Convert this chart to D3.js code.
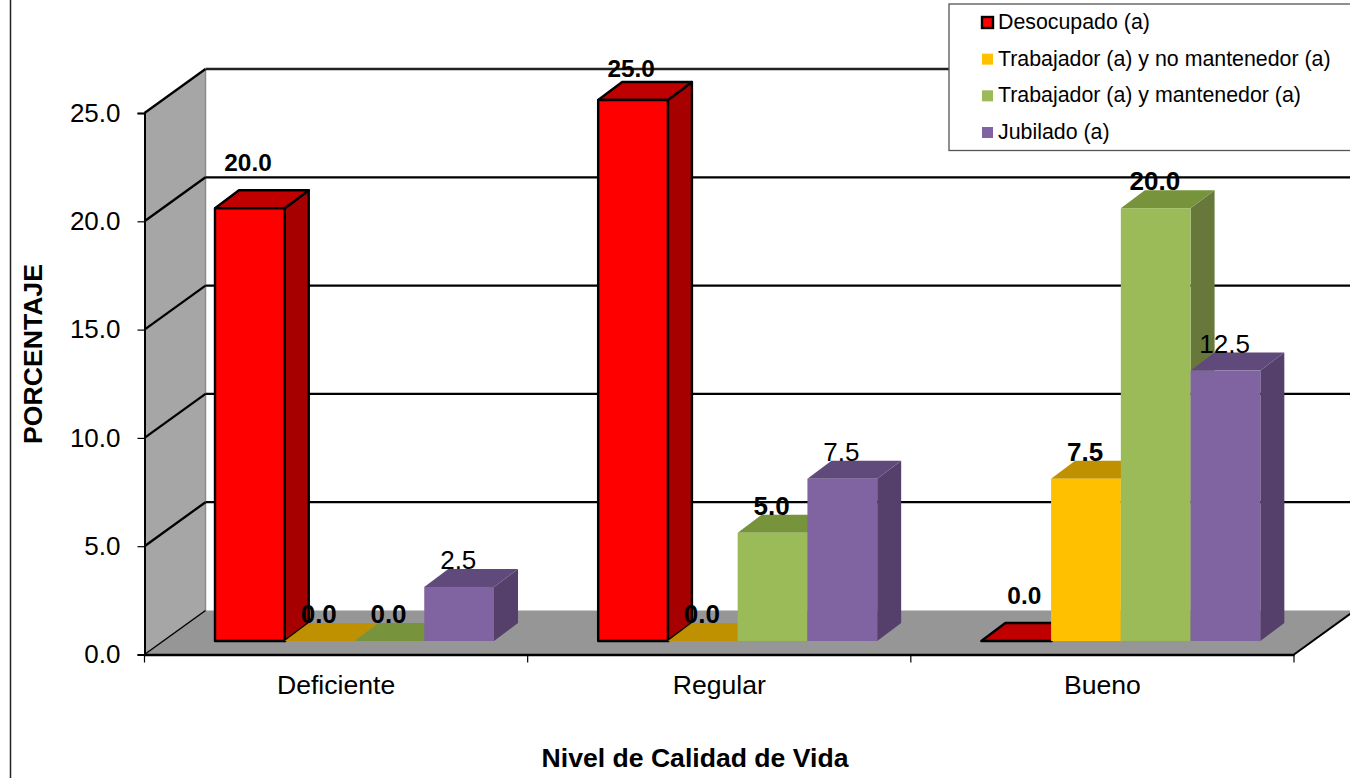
<!DOCTYPE html>
<html>
<head>
<meta charset="utf-8">
<script src="https://cdnjs.cloudflare.com/ajax/libs/d3/7.8.5/d3.min.js"></script>
<style>
html,body{margin:0;padding:0;background:#fff;overflow:hidden}
svg{display:block}
text{font-family:"Liberation Sans",Arial,sans-serif;fill:#000}
</style>
</head>
<body>
<svg id="chart" width="1350" height="778"></svg>
<script>
// Chart data
const categories = ["Deficiente", "Regular", "Bueno"];
const seriesNames = ["Desocupado (a)", "Trabajador (a) y no mantenedor (a)", "Trabajador (a) y mantenedor (a)", "Jubilado (a)"];
const desocupado = [20.0, 25.0, 0.0];
const noMantenedor = [0.0, 0.0, 7.5];
const mantenedor = [0.0, 5.0, 20.0];
const jubilado = [2.5, 7.5, 12.5];
const yTicks = [0, 5, 10, 15, 20, 25];
const faceColors = ["#ff0000", "#ffc000", "#9bbb59", "#8064a2"];
const topColors = ["#c00000", "#bf9000", "#77933c", "#604a7b"];
const sideColors = ["#a60000", "#bf9000", "#67783a", "#54406a"];

const seriesValues = [desocupado, noMantenedor, mantenedor, jubilado];

const svg = d3.select("#chart");
const poly = pts => pts.map(p => p.join(",")).join(" ");

// Frame of the 3D box: front plane and depth of the back wall
const frontLeft = 144.5, frontRight = 1294, depthX = 61, depthY = 44;
const yFront = d3.scaleLinear().domain([0, 25]).range([654.5, 113]);
const yBar = d3.scaleLinear().domain([0, 25]).range([641, 100]);
const xGroup = d3.scaleBand().domain(categories).range([frontLeft, frontRight]);
const barW = 69.75, barDepthX = 24, barDepthY = 18, barLeadIn = 70.5;
const xBar = (c, s) => xGroup(c) + barLeadIn + s * barW;

// Outer chart border
svg.append("line").attr("x1", 10.5).attr("x2", 10.5).attr("y1", 0).attr("y2", 778)
  .attr("stroke", "#222").attr("stroke-width", 1.5);

// Side wall and floor
const y0 = yFront(0), yTop = yFront(25);
svg.append("polygon")
  .attr("points", poly([[frontLeft, yTop], [frontLeft + depthX, yTop - depthY], [frontLeft + depthX, y0 - depthY], [frontLeft, y0]]))
  .attr("fill", "#a6a6a6");
svg.append("polygon")
  .attr("points", poly([[frontLeft, y0], [frontLeft + depthX, y0 - depthY], [frontRight + depthX, y0 - depthY], [frontRight, y0]]))
  .attr("fill", "#969696");
svg.append("line")
  .attr("x1", frontLeft + depthX).attr("x2", frontLeft + depthX)
  .attr("y1", yTop - depthY).attr("y2", y0 - depthY)
  .attr("stroke", "#8c8c8c").attr("stroke-width", 1.5);

// Gridlines running along the side wall and the back wall
const grid = svg.append("g").attr("fill", "none").attr("stroke", "#000").attr("stroke-width", 2.3);
yTicks.forEach(t => {
  const y = yFront(t);
  grid.append("line").attr("x1", frontLeft).attr("y1", y).attr("x2", frontLeft + depthX).attr("y2", y - depthY)
    .attr("stroke-width", t === 0 ? 1.5 : 2.3);
  if (t > 0) {
    grid.append("line").attr("x1", frontLeft + depthX).attr("y1", y - depthY).attr("x2", 1350).attr("y2", y - depthY)
      .attr("stroke", t === 25 ? "#222" : "#000");
  }
});

// Right-hand edge of the floor, clipped by the page
svg.append("line")
  .attr("x1", frontRight).attr("y1", y0).attr("x2", frontRight + depthX).attr("y2", y0 - depthY)
  .attr("stroke", "#000").attr("stroke-width", 2);

// Axes on the front plane
const yAxis = d3.axisLeft(yFront).tickValues(yTicks).tickFormat(d3.format(".1f")).tickSize(7).tickPadding(17);
const gy = svg.append("g").attr("transform", `translate(${frontLeft},0)`).call(yAxis);
gy.select(".domain").attr("stroke", "#000").attr("stroke-width", 2);
gy.selectAll(".tick line").attr("stroke", "#000").attr("stroke-width", 1.2);
gy.selectAll("text").attr("font-size", 26).attr("font-family", '"Liberation Sans",Arial,sans-serif').attr("dy", "0.32em");

const xAxis = d3.axisBottom(xGroup).tickSize(0).tickPadding(21);
const gx = svg.append("g").attr("transform", `translate(0,${y0})`).call(xAxis);
gx.select(".domain").attr("stroke", "#000").attr("stroke-width", 2.5);
gx.selectAll("text").attr("font-size", 26.6).attr("font-family", '"Liberation Sans",Arial,sans-serif');
const groupEdges = categories.map(c => xGroup(c)).concat([frontRight]);
svg.append("g").selectAll("line").data(groupEdges).join("line")
  .attr("x1", d => d).attr("x2", d => d).attr("y1", y0).attr("y2", y0 + 8)
  .attr("stroke", "#000").attr("stroke-width", 1.2);

// Bars: side and top faces first, then the front face, left to right
const bars = svg.append("g");
categories.forEach((c, ci) => {
  seriesValues.forEach((vals, s) => {
    const v = vals[ci], x = xBar(c, s), yT = yBar(v), yB = yBar(0);
    const outline = s === 0 ? {stroke: "#000", w: 2.4} : {stroke: "none", w: 0};
    const g = bars.append("g").attr("stroke", outline.stroke).attr("stroke-width", outline.w).attr("stroke-linejoin", "round");
    g.append("polygon").attr("fill", sideColors[s])
      .attr("points", poly([[x + barW, yT], [x + barW + barDepthX, yT - barDepthY], [x + barW + barDepthX, yB - barDepthY], [x + barW, yB]]));
    g.append("polygon").attr("fill", topColors[s])
      .attr("points", poly([[x, yT], [x + barDepthX, yT - barDepthY], [x + barW + barDepthX, yT - barDepthY], [x + barW, yT]]));
    g.append("rect").attr("fill", faceColors[s])
      .attr("x", x).attr("y", yT).attr("width", barW).attr("height", yB - yT);
  });
});

// Value labels; the Jubilado series uses a regular weight, the others bold,
// and the first series is set slightly smaller
const raisedLabels = new Set(["0-0", "2-0"]);
const liftedLabel = "1-0";
const labels = svg.append("g").attr("text-anchor", "middle");
categories.forEach((c, ci) => {
  seriesValues.forEach((vals, s) => {
    const v = vals[ci];
    let lift = 18;
    if (raisedLabels.has(`${ci}-${s}`)) lift = 37;
    if (`${ci}-${s}` === liftedLabel) lift = 23;
    const shift = s === 0 ? (ci === 2 ? 43 : 33) : 34;
    labels.append("text")
      .attr("x", xBar(c, s) + shift)
      .attr("y", yBar(v) - lift)
      .attr("font-size", s === 0 ? 24.4 : 26)
      .attr("font-weight", s === 3 ? "normal" : "bold")
      .text(d3.format(".1f")(v));
  });
});

// Axis titles
svg.append("text").attr("x", 695).attr("y", 767).attr("text-anchor", "middle")
  .attr("font-size", 26.6).attr("font-weight", "bold").text("Nivel de Calidad de Vida");
svg.append("text").attr("transform", "translate(42,354) rotate(-90)").attr("text-anchor", "middle")
  .attr("font-size", 26.6).attr("font-weight", "bold").text("PORCENTAJE");

// Legend, running off the right edge
const legend = svg.append("g");
legend.append("rect").attr("x", 949).attr("y", 4).attr("width", 410).attr("height", 146.5)
  .attr("fill", "#fff").attr("stroke", "#555").attr("stroke-width", 1.3);
const legendY = d3.scalePoint().domain(seriesNames).range([22, 132]);
seriesNames.forEach((name, i) => {
  const y = legendY(name);
  legend.append("rect").attr("x", 982).attr("y", y - 5)
    .attr("width", 11).attr("height", 11)
    .attr("fill", faceColors[i])
    .attr("stroke", i === 0 ? "#000" : "none").attr("stroke-width", 2.4);
  legend.append("text").attr("x", 998).attr("y", y + 7).attr("font-size", 21.35).text(name);
});
</script>
</body>
</html>
